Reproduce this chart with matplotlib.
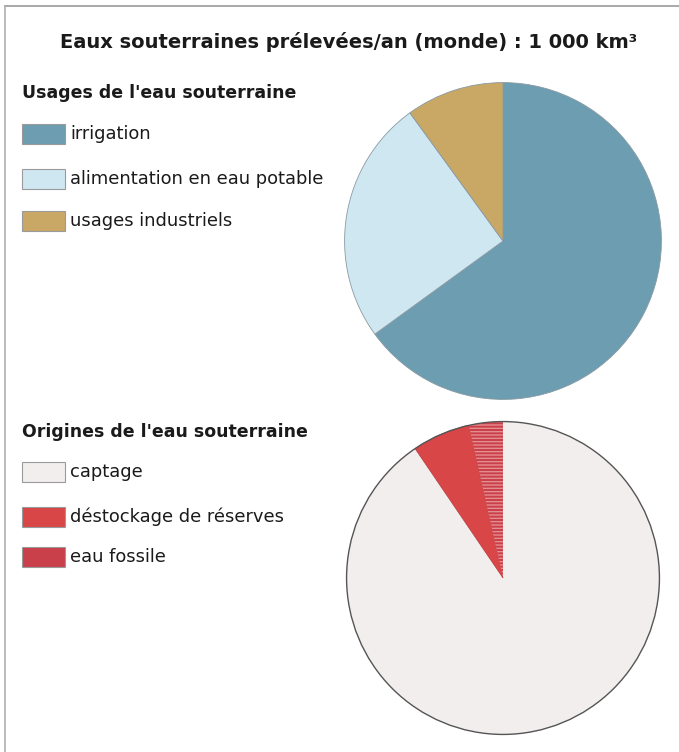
import matplotlib
matplotlib.use("Agg")
import matplotlib.pyplot as plt
from matplotlib.patches import Rectangle, Circle
from matplotlib.lines import Line2D

plt.rcParams['font.family'] = ['DejaVu Sans']

W, H = 679, 752

title = "Eaux souterraines prélevées/an (monde) : 1 000 km³"

# usages (share of withdrawals, %)
usage_title = "Usages de l'eau souterraine"
usage_labels = ["irrigation", "alimentation en eau potable", "usages industriels"]
usage_values = [65, 25, 10]
usage_colors = ["#6c9db0", "#cfe7f1", "#c9a866"]

# origins (share, %)
origin_title = "Origines de l'eau souterraine"
origin_labels = ["captage", "déstockage de réserves", "eau fossile"]
origin_values = [90.5, 6.0, 3.5]
origin_colors = ["#f2eeed", "#d94647", "#c9404a"]

fig = plt.figure(figsize=(W / 100, H / 100), dpi=100)
fig.patch.set_facecolor("white")
renderer = fig.canvas.get_renderer()


def px_axes(cx, cy, r):
    # square axes centred on (cx, cy) in pixel coords, top-left origin
    return fig.add_axes([(cx - r) / W, 1 - (cy + r) / H, 2 * r / W, 2 * r / H])


def fx(x):
    return x / W


def fy(y):
    return 1 - y / H


def fit(txt, width):
    # rescale font size so the text spans `width` pixels
    w = txt.get_window_extent(renderer).width
    txt.set_fontsize(txt.get_fontsize() * width / w)
    return txt.get_fontsize()


# frame (top and left rules)
fig.add_artist(Line2D([fx(5), fx(679)], [fy(6), fy(6)], color="#9a9a9a", lw=1.2))
fig.add_artist(Line2D([fx(5), fx(5)], [fy(6), fy(752)], color="#b0b0b0", lw=1.2))

t = fig.text(fx(349), fy(42), title, ha="center", va="center",
             fontsize=13, fontweight="semibold", color="#1a1a1a")
fit(t, 574)

# --- pie 1 : usages
ax1 = px_axes(503, 241, 160)
w1, _ = ax1.pie(usage_values, colors=usage_colors, startangle=90, counterclock=False,
                wedgeprops=dict(edgecolor="#8a9aa3", linewidth=0.6))
ax1.set_xlim(-1.01, 1.01)
ax1.set_ylim(-1.01, 1.01)
ax1.axis("off")

# --- pie 2 : origins
ax2 = px_axes(503, 578, 158)
w2, _ = ax2.pie(origin_values, colors=origin_colors, startangle=90, counterclock=False,
                wedgeprops=dict(edgecolor="none", linewidth=0))
w2[1].set_edgecolor("#b83a3c")
w2[1].set_linewidth(0.5)
w2[2].set_hatch("-----")
w2[2].set_edgecolor("#e58c8f")
w2[2].set_linewidth(0)
ax2.add_patch(Circle((0, 0), 1, fill=False, edgecolor="#555555", linewidth=1.0))
ax2.set_xlim(-1.01, 1.01)
ax2.set_ylim(-1.01, 1.01)
ax2.axis("off")

# font sizes from the widest strings
probe = fig.text(0, 0, usage_title, fontsize=12, fontweight="bold")
head_fs = fit(probe, 273)
probe.remove()
probe = fig.text(0, 0, usage_labels[1], fontsize=12)
lab_fs = fit(probe, 252)
probe.remove()


def legend(head_y, rows_y, head, labels, colors):
    fig.text(fx(22), fy(head_y), head, ha="left", va="center",
             fontsize=head_fs, fontweight="bold", color="#1a1a1a")
    for y, lab, col in zip(rows_y, labels, colors):
        r = Rectangle((fx(22), fy(y + 10)), fx(43), 20 / H, transform=fig.transFigure,
                      facecolor=col, edgecolor="#9a9a9a", linewidth=0.8)
        fig.add_artist(r)
        fig.text(fx(70), fy(y), lab, ha="left", va="center",
                 fontsize=lab_fs, color="#1a1a1a")


legend(93, [134, 179, 221], usage_title, usage_labels, usage_colors)
legend(432, [472, 517, 557], origin_title, origin_labels, origin_colors)

fig.savefig("out.png", dpi=100, facecolor="white")
